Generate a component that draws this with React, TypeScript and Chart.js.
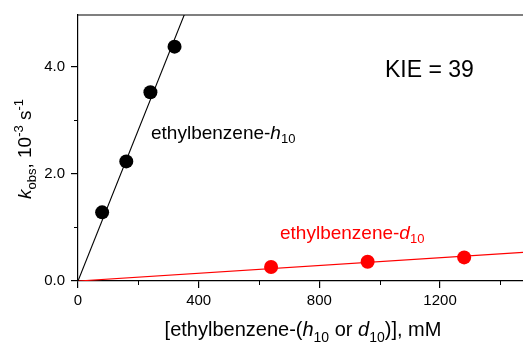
import React, { useEffect, useRef } from "react";
import { Chart, registerables } from "chart.js";

Chart.register(...registerables);

// ---- data ----
const hConc = [80, 160, 240, 320];
const hKobs = [1.28, 2.23, 3.52, 4.37];
const dConc = [640, 960, 1280];
const dKobs = [0.26, 0.36, 0.44];
// linear fits through the origin (endpoints)
const hFitX = [0, 400];
const hFitY = [0, 5.636];
const dFitX = [0, 1475];
const dFitY = [0, 0.535];
const xMajorTicks = [0, 400, 800, 1200];
const xMinorTicks = [200, 600, 1000, 1400];
const yMajorTicks = [0, 2, 4];
const yMinorTicks = [1, 3];
const X_MIN = 0;
const X_MAX = 1475;
const Y_MIN = 0;
const Y_MAX = 4.96;

const FONT = "'Liberation Sans', Arial, Helvetica, sans-serif";

type Seg = { t: string; i?: boolean; sub?: boolean; sup?: boolean };

function segFont(s: Seg, F: number, S: number) {
  const size = s.sub || s.sup ? S : F;
  return `${s.i ? "italic " : ""}${size}px ${FONT}`;
}
function richWidth(ctx: CanvasRenderingContext2D, segs: Seg[], F: number, S: number) {
  let w = 0;
  for (const s of segs) {
    ctx.font = segFont(s, F, S);
    w += ctx.measureText(s.t).width;
  }
  return w;
}
function drawRich(
  ctx: CanvasRenderingContext2D,
  segs: Seg[],
  x: number,
  y: number,
  F: number,
  S: number,
  subOff: number,
  supOff: number,
  color: string
) {
  ctx.fillStyle = color;
  ctx.textBaseline = "alphabetic";
  ctx.textAlign = "left";
  let cx = x;
  for (const s of segs) {
    ctx.font = segFont(s, F, S);
    const dy = s.sub ? subOff : s.sup ? -supOff : 0;
    ctx.fillText(s.t, cx, y + dy);
    cx += ctx.measureText(s.t).width;
  }
}

const annotPlugin = {
  id: "annot",
  afterDraw(chart: any) {
    const ctx: CanvasRenderingContext2D = chart.ctx;
    const { left, right, top, bottom } = chart.chartArea;
    const xs = chart.scales.x;
    const ys = chart.scales.y;
    ctx.save();
    // top frame line
    ctx.strokeStyle = "#000";
    ctx.lineWidth = 1.2;
    ctx.beginPath();
    ctx.moveTo(left, top);
    ctx.lineTo(right, top);
    ctx.stroke();
    // minor ticks
    ctx.lineWidth = 1;
    ctx.beginPath();
    for (const v of xMinorTicks) {
      const px = Math.round(xs.getPixelForValue(v)) + 0.5;
      ctx.moveTo(px, bottom);
      ctx.lineTo(px, bottom + 4);
    }
    for (const v of yMinorTicks) {
      const py = Math.round(ys.getPixelForValue(v)) + 0.5;
      ctx.moveTo(left, py);
      ctx.lineTo(left - 4, py);
    }
    ctx.stroke();

    // x title
    const xt: Seg[] = [
      { t: "[ethylbenzene-(" },
      { t: "h", i: true },
      { t: "10", sub: true },
      { t: " or " },
      { t: "d", i: true },
      { t: "10", sub: true },
      { t: ")], mM" },
    ];
    const xw = richWidth(ctx, xt, 20, 14);
    drawRich(ctx, xt, 303 - xw / 2, 336, 20, 14, 6, 0, "#000");

    // y title (rotated)
    const yt: Seg[] = [
      { t: "k", i: true },
      { t: "obs", sub: true },
      { t: ", 10" },
      { t: "-3", sup: true },
      { t: " s" },
      { t: "-1", sup: true },
    ];
    const yw = richWidth(ctx, yt, 19, 13);
    ctx.save();
    ctx.translate(31, 149 + yw / 2);
    ctx.rotate(-Math.PI / 2);
    drawRich(ctx, yt, 0, 0, 19, 13, 5, 8, "#000");
    ctx.restore();

    // series labels
    drawRich(
      ctx,
      [{ t: "ethylbenzene-" }, { t: "h", i: true }, { t: "10", sub: true }],
      151,
      139,
      19,
      13,
      4,
      0,
      "#000"
    );
    drawRich(
      ctx,
      [{ t: "ethylbenzene-" }, { t: "d", i: true }, { t: "10", sub: true }],
      280,
      239,
      19,
      13,
      4,
      0,
      "#ff0000"
    );
    drawRich(ctx, [{ t: "KIE = 39" }], 385, 77, 23, 23, 0, 0, "#000");
    ctx.restore();
  },
};

export default function App() {
  const ref = useRef<HTMLCanvasElement | null>(null);
  useEffect(() => {
    document.body.style.margin = "0";
    const canvas = ref.current!;
    const chart = new Chart(canvas, {
      type: "scatter",
      data: {
        datasets: [
          {
            label: "h fit",
            data: hFitX.map((x, i) => ({ x, y: hFitY[i] })),
            showLine: true,
            borderColor: "#000",
            borderWidth: 1.1,
            pointRadius: 0,
            pointHoverRadius: 0,
          },
          {
            label: "d fit",
            data: dFitX.map((x, i) => ({ x, y: dFitY[i] })),
            showLine: true,
            borderColor: "#ff0000",
            borderWidth: 1.2,
            pointRadius: 0,
            pointHoverRadius: 0,
          },
          {
            label: "ethylbenzene-h10",
            data: hConc.map((x, i) => ({ x, y: hKobs[i] })),
            backgroundColor: "#000",
            borderWidth: 0,
            pointRadius: 7,
          },
          {
            label: "ethylbenzene-d10",
            data: dConc.map((x, i) => ({ x, y: dKobs[i] })),
            backgroundColor: "#ff0000",
            borderWidth: 0,
            pointRadius: 7,
          },
        ],
      },
      options: {
        animation: false,
        responsive: false,
        devicePixelRatio: 1,
        layout: { autoPadding: false, padding: { top: 15, right: 0, left: 0, bottom: 0 } },
        plugins: {
          legend: { display: false },
          tooltip: { enabled: false },
        },
        scales: {
          x: {
            type: "linear",
            min: X_MIN,
            max: X_MAX,
            afterBuildTicks: (s: any) => {
              s.ticks = xMajorTicks.map((v) => ({ value: v }));
            },
            afterFit: (s: any) => {
              s.height = 62;
            },
            border: { display: true, color: "#000", width: 1.2 },
            grid: {
              drawOnChartArea: false,
              drawTicks: true,
              tickLength: 7,
              color: "#000",
              lineWidth: 1.2,
            },
            ticks: {
              color: "#000",
              font: { family: FONT, size: 15 },
              padding: 4,
              maxRotation: 0,
              callback: (v: any) => String(v),
            },
          },
          y: {
            type: "linear",
            min: Y_MIN,
            max: Y_MAX,
            afterBuildTicks: (s: any) => {
              s.ticks = yMajorTicks.map((v) => ({ value: v }));
            },
            afterFit: (s: any) => {
              s.width = 78;
            },
            border: { display: true, color: "#000", width: 1.2 },
            grid: {
              drawOnChartArea: false,
              drawTicks: true,
              tickLength: 7,
              color: "#000",
              lineWidth: 1.2,
            },
            ticks: {
              color: "#000",
              font: { family: FONT, size: 15 },
              padding: 6,
              callback: (v: any) => Number(v).toFixed(1),
            },
          },
        },
      },
      plugins: [annotPlugin],
    } as any);
    return () => chart.destroy();
  }, []);
  return (
    <div style={{ position: "absolute", left: 0, top: 0, width: 523, height: 343 }}>
      <canvas ref={ref} width={523} height={343} style={{ display: "block" }} />
    </div>
  );
}
